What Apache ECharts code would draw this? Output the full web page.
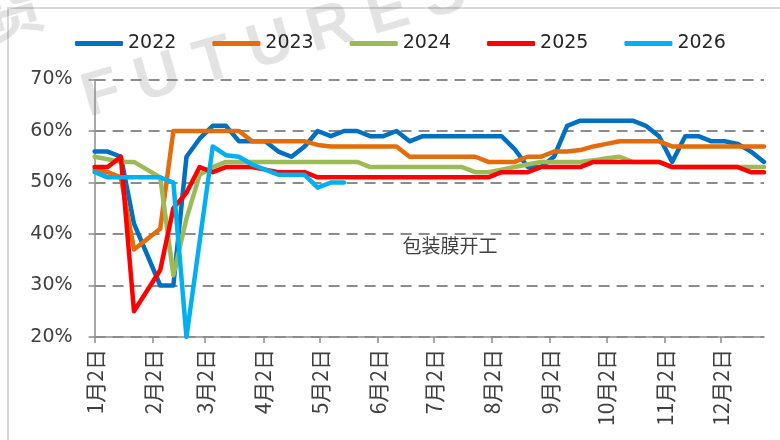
<!DOCTYPE html>
<html>
<head>
<meta charset="utf-8">
<title>包装膜开工</title>
<script src="https://cdn.jsdelivr.net/npm/echarts@6/dist/echarts.min.js"></script>
<style>
    html, body { margin: 0; padding: 0; background: #fff; }
    #main { width: 780px; height: 440px; }
</style>
</head>
<body>
<div id="main"></div>
<script>
// 周度数据(1月2日起每周一个点, null 为缺失)
var years = ['2022', '2023', '2024', '2025', '2026'];
var data2022 = [56, 56, 55, 42, null, 30, 30, 55, 58.5, 61, 61, 58, 58, 58, 56, 55, 57, 60, 59, 60, 60, 59, 59, 60, 58, 59,
    59, 59, 59, 59, 59, 59, 56.5, 53, 53, 55, 61, 62, 62, 62, 62, 62, 61, 59, 54, 59, 59, 58, 58, 57.5, 56, 54];
var data2023 = [52.5, 52, 51, 37, null, 41, 60, 60, 60, 60, 60, 60, 58, 58, 58, 58, 58, 57.3, 57, 57, 57, 57, 57, 57, 55, 55,
    55, 55, 55, 55, 54, 54, 54, 55, 55, 56, 56, 56.3, 57, 57.5, 58, 58, 58, 58, 57, 57, 57, 57, 57, 57, 57, 57];
var data2024 = [55, 54.5, 54, 54, 52.5, 51, 32, 43, 51.5, 53, 54, 54, 54, 54, 54, 54, 54, 54, 54, 54, 54, 53, 53, 53, 53, 53,
    53, 53, 53, 52, 52, 52.5, 53, 53.5, 54, 54, 54, 54, 54.3, 54.7, 55, 54, 54, 54, 53, 53, 53, 53, 53, 53, 53, 53];
var data2025 = [53, 53, 55, 25, null, 33, 45, 48, 53, 52, 53, 53, 53, 52.5, 52, 52, 52, 51, 51, 51, 51, 51, 51, 51, 51, 51,
    51, 51, 51, 51, 51, 52, 52, 52, 53, 53, 53, 53, 54, 54, 54, 54, 54, 54, 53, 53, 53, 53, 53, 53, 52, 52];
var data2026 = [52, 51, 51, 51, 51, 51, 50, 20, null, 57, 55.3, 55, 53.5, 52.5, 51.5, 51.5, 51.5, 49, 50, 50];
var colors = ['#0070C0', '#E46C0A', '#9BBB59', '#FF0000', '#00B0F0'];
var tickLabels = ['1月2日', '2月2日', '3月2日', '4月2日', '5月2日', '6月2日', '7月2日', '8月2日', '9月2日', '10月2日', '11月2日', '12月2日'];

// 日期轴: 1月2日 ~ 12月25日
var monthDays = [31, 28, 31, 30, 31, 30, 31, 31, 30, 31, 30, 31];
var dayLabels = [];
for (var m = 0; m < 12; m++) {
    for (var d = 1; d <= monthDays[m]; d++) {
        if (m == 0 && d == 1) continue;
        if (m == 11 && d > 25) break;
        dayLabels.push((m + 1) + '月' + d + '日');
    }
}

function toPairs(vals) {
    var out = [];
    for (var i = 0; i < vals.length; i++) {
        if (vals[i] == null) continue;
        out.push([dayLabels[i * 7], vals[i]]);
    }
    return out;
}

function isTick(idx, val) {
    return tickLabels.indexOf(val) >= 0;
}

var myChart = echarts.init(document.getElementById('main'));
var allData = [data2022, data2023, data2024, data2025, data2026];
var series = [];
for (var k = 0; k < years.length; k++) {
    series.push({
        name: years[k],
        type: 'line',
        data: toPairs(allData[k]),
        showSymbol: false,
        symbol: 'none',
        connectNulls: true,
        lineStyle: { width: 4.5, color: colors[k], cap: 'round', join: 'round' },
        itemStyle: { color: colors[k] }
    });
}

myChart.setOption({
    animation: false,
    color: colors,
    graphic: [
        { type: 'rect', z: 0, shape: { x: 8, y: 8, width: 800, height: 500 },
          style: { fill: 'none', stroke: '#d9d9d9', lineWidth: 2 } },
        // 水印
        { type: 'text', z: 0, x: 92, y: 130, rotation: 0.28,
          style: { text: 'F U T U R E S', fill: 'rgba(0,0,0,0.11)', font: 'bold 62px "Liberation Sans"',
                   textAlign: 'left', textVerticalAlign: 'bottom' } },
        { type: 'text', z: 0, x: -8, y: 48, rotation: 0.28,
          style: { text: '货', fill: 'rgba(0,0,0,0.11)', font: 'bold 60px "Noto Sans CJK SC"',
                   textAlign: 'left', textVerticalAlign: 'bottom' } },
        { type: 'text', z: 5, x: 450, y: 246,
          style: { text: '包装膜开工', fill: '#404040', font: '19px "Noto Sans CJK SC"',
                   textAlign: 'center', textVerticalAlign: 'middle' } }
    ],
    legend: {
        data: years,
        left: 70,
        top: 29,
        icon: 'roundRect',
        itemWidth: 48,
        itemHeight: 5,
        itemGap: 36,
        textStyle: { fontFamily: 'DejaVu Sans', fontSize: 19, color: '#262626' }
    },
    grid: { left: 94.6, right: 16, top: 79.5, bottom: 103 },
    xAxis: {
        type: 'category',
        data: dayLabels,
        boundaryGap: false,
        axisLine: { lineStyle: { color: '#8c8c8c', width: 1.5 } },
        axisTick: { interval: isTick, length: 6, lineStyle: { color: '#8c8c8c', width: 1.5 } },
        axisLabel: {
            interval: isTick,
            rotate: 90,
            margin: 12,
            fontFamily: 'Noto Sans CJK SC',
            fontSize: 21,
            color: '#404040'
        },
        splitLine: { show: false }
    },
    yAxis: {
        type: 'value',
        min: 20,
        max: 70,
        interval: 10,
        axisLine: { show: true, lineStyle: { color: '#8c8c8c', width: 1.5 } },
        axisTick: { show: true, length: 6, lineStyle: { color: '#8c8c8c', width: 1.5 } },
        axisLabel: {
            formatter: '{value}%',
            margin: 22,
            fontFamily: 'DejaVu Sans',
            fontSize: 19,
            color: '#404040'
        },
        splitLine: { show: true, lineStyle: { color: '#8c8c8c', width: 1.8, type: [11, 7] } }
    },
    series: series
});
</script>
</body>
</html>
